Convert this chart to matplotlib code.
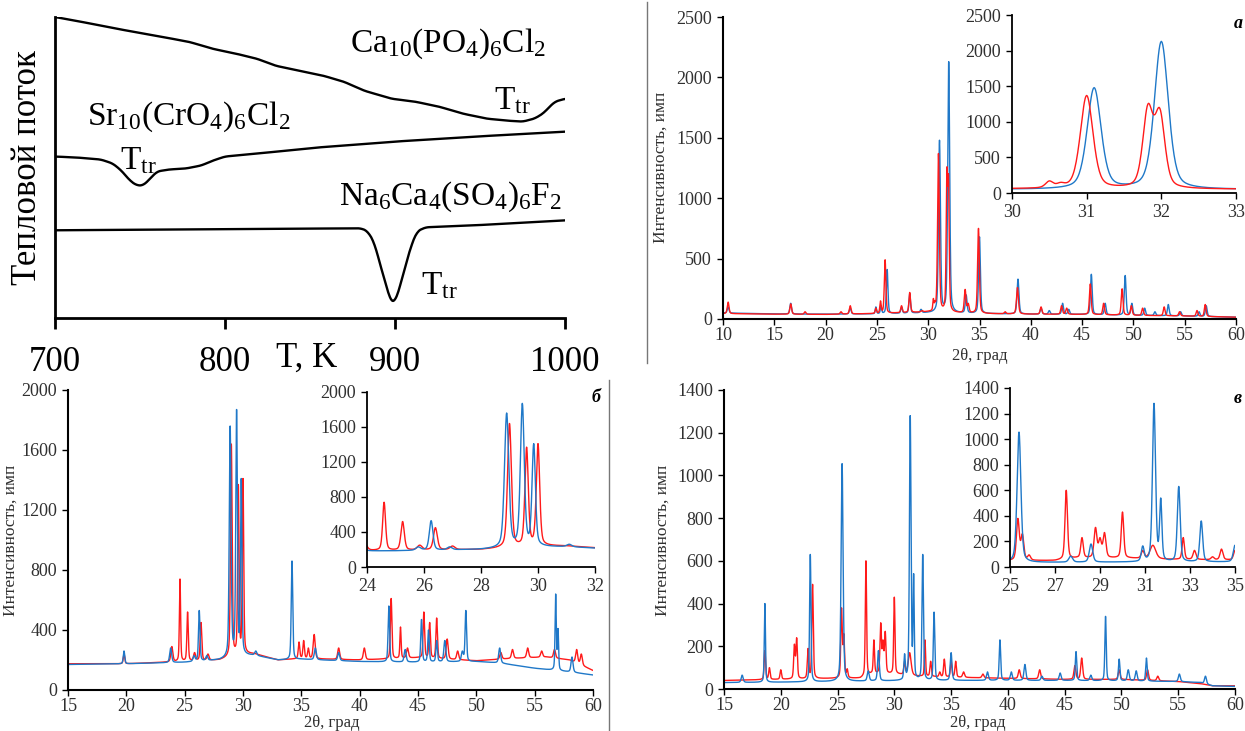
import numpy as np
import matplotlib
matplotlib.use('Agg')
import matplotlib.pyplot as plt
from matplotlib.lines import Line2D

plt.rcParams['font.family'] = ['Liberation Serif', 'DejaVu Serif']
plt.rcParams['mathtext.fontset'] = 'custom'
plt.rcParams['mathtext.rm'] = 'Liberation Serif'
plt.rcParams['mathtext.it'] = 'Liberation Serif:italic'

W, H = 1245, 731
RED = '#ff1a1a'
BLUE = '#1f78c8'
GRAY = '#303030'

# ---------------- DSC curves (T, K / heat flow, arbitrary units) ----------------
ca_T = [700, 713, 737, 760, 779, 793, 807, 819, 830, 844, 858, 870, 882, 898, 912,
        926, 940, 954, 966, 975, 982, 987, 991, 994, 1000]
ca_q = [302, 298, 290, 283, 277, 270, 265, 260, 253, 248, 243, 237, 228, 220, 217,
        212, 205, 200, 198, 197, 200, 205, 212, 217, 220]
sr_T = [700, 713, 727, 734, 739, 744, 748, 752, 756, 760, 767, 777, 786, 793, 800,
        819, 854, 900, 947, 1000]
sr_q = [162, 161, 159, 155, 148, 138, 133, 133, 140, 147, 149, 150, 153, 158, 162,
        165, 171, 177, 182, 187]
na_T = [700, 784, 880, 884, 888, 891, 895, 897, 899, 900.5, 903, 906, 910, 913, 918,
        947, 1000]
na_q = [88, 89, 90, 87, 75, 55, 32, 18, 15, 18, 32, 52, 75, 87, 91, 93, 98]

# ---------------- XRD patterns: background points and peaks (2theta, top, fwhm) ----------------
# panel a
a_blue_bg_x = [10, 15, 20, 25, 30, 35, 40, 45, 50, 55, 60]
a_blue_bg_y = [50, 42, 40, 42, 50, 45, 40, 38, 30, 25, 15]
a_blue_pos = [10.5, 16.6, 22.4, 24.9, 25.4, 26.0, 27.4, 28.2, 29.3, 31.1, 32.0, 33.7, 35.0,
              38.75, 41.0, 41.8, 43.1, 43.7, 45.9, 47.25, 49.2, 49.85, 51.1, 52.1, 53.4,
              54.6, 56.4, 57.1]
a_blue_top = [100, 130, 90, 100, 110, 410, 100, 210, 80, 1480, 2130, 200, 680,
              330, 90, 70, 130, 80, 370, 130, 360, 130, 90, 60, 120,
              60, 60, 110]
a_blue_fw = [0.2, 0.2, 0.2, 0.15, 0.15, 0.18, 0.18, 0.18, 0.2, 0.22, 0.22, 0.2, 0.2,
             0.22, 0.2, 0.2, 0.2, 0.2, 0.2, 0.2, 0.2, 0.2, 0.2, 0.2, 0.2,
             0.2, 0.2, 0.2]
a_red_bg_x = [10, 15, 20, 25, 30, 35, 40, 45, 50, 55, 60]
a_red_bg_y = [45, 40, 38, 45, 58, 45, 40, 38, 30, 25, 15]
a_red_pos = [10.5, 16.6, 18.0, 21.5, 22.4, 24.9, 25.35, 25.8, 27.4, 28.2, 29.4, 30.5,
             30.65, 31.0, 31.82, 31.98, 33.6, 33.9, 34.9, 37.5, 38.7, 41.0, 43.0, 43.5,
             45.8, 47.1, 48.9, 49.8, 50.9, 53.0, 54.5, 56.2, 57.0]
a_red_top = [140, 125, 60, 60, 110, 90, 150, 490, 110, 220, 70, 170,
             150, 1370, 1250, 1190, 245, 130, 750, 60, 260, 100, 110, 90,
             290, 130, 250, 110, 90, 100, 60, 70, 120]
a_red_fw = [0.2, 0.2, 0.2, 0.2, 0.2, 0.15, 0.15, 0.18, 0.18, 0.18, 0.2, 0.12,
            0.12, 0.2, 0.16, 0.16, 0.2, 0.2, 0.2, 0.2, 0.22, 0.2, 0.2, 0.2,
            0.2, 0.2, 0.2, 0.2, 0.2, 0.2, 0.2, 0.2, 0.2]

# panel b
b_blue_bg_x = [15, 20, 25, 28, 30, 31, 33, 35, 40, 45, 50, 52, 55, 58, 60]
b_blue_bg_y = [170, 175, 185, 200, 230, 230, 200, 205, 190, 185, 190, 180, 145, 120, 100]
b_blue_pos = [19.8, 23.8, 25.8, 26.25, 26.9, 28.9, 29.45, 29.85, 31.1, 34.2, 36.2, 38.2,
              42.5, 43.9, 45.3, 45.9, 46.6, 47.3, 48.8, 49.1, 52.0, 56.8, 57.0, 58.2]
b_blue_top = [260, 280, 230, 530, 230, 1760, 1870, 1410, 260, 860, 280, 250,
              560, 270, 470, 400, 330, 330, 260, 530, 280, 640, 410, 220]
b_blue_fw = [0.15, 0.2, 0.2, 0.15, 0.2, 0.18, 0.16, 0.14, 0.2, 0.15, 0.2, 0.2,
             0.15, 0.2, 0.15, 0.15, 0.15, 0.2, 0.2, 0.15, 0.2, 0.12, 0.12, 0.2]
b_red_bg_x = [15, 20, 25, 28, 30, 31, 33, 35, 40, 45, 50, 53, 56, 58, 60]
b_red_bg_y = [175, 175, 190, 200, 240, 240, 200, 210, 200, 215, 195, 210, 220, 200, 130]
b_red_pos = [19.8, 23.9, 24.6, 25.25, 25.85, 26.4, 27.0, 29.0, 29.6, 30.0, 34.8, 35.2,
             35.6, 36.1, 38.2, 40.4, 42.7, 43.5, 44.1, 45.5, 46.0, 46.6, 47.5, 48.4,
             52.1, 53.1, 54.4, 55.6, 56.7, 58.6, 59.0]
b_red_top = [240, 290, 740, 520, 250, 450, 240, 1640, 1370, 1410, 320, 330,
             280, 370, 280, 280, 610, 420, 280, 520, 450, 480, 340, 260,
             250, 270, 280, 260, 270, 270, 240]
b_red_fw = [0.15, 0.2, 0.12, 0.14, 0.2, 0.16, 0.2, 0.16, 0.14, 0.14, 0.15, 0.15,
            0.15, 0.2, 0.2, 0.2, 0.15, 0.12, 0.2, 0.15, 0.15, 0.15, 0.2, 0.2,
            0.2, 0.2, 0.2, 0.2, 0.2, 0.2, 0.2]

# panel c
c_blue_bg_x = [15, 20, 25, 30, 35, 40, 45, 50, 55, 57, 58, 60]
c_blue_bg_y = [30, 32, 35, 38, 40, 40, 40, 38, 35, 30, 15, 12]
c_blue_pos = [16.6, 18.6, 22.6, 25.4, 27.7, 28.6, 30.9, 31.4, 31.7, 32.5, 33.5, 35.0,
              38.2, 39.3, 40.3, 41.5, 43.0, 44.6, 46.0, 47.3, 48.6, 49.8, 50.6, 51.3,
              52.2, 55.1, 57.4]
c_blue_top = [65, 400, 630, 1055, 85, 180, 165, 1280, 540, 630, 360, 170,
              80, 230, 80, 115, 60, 75, 175, 65, 340, 140, 90, 85,
              145, 70, 60]
c_blue_fw = [0.2, 0.12, 0.14, 0.2, 0.2, 0.18, 0.15, 0.16, 0.12, 0.15, 0.15, 0.18,
             0.2, 0.15, 0.2, 0.2, 0.2, 0.2, 0.15, 0.2, 0.14, 0.15, 0.2, 0.2,
             0.15, 0.2, 0.2]
c_red_bg_x = [15, 20, 25, 27, 28, 30, 32, 35, 40, 45, 50, 55, 57, 58, 60]
c_red_bg_y = [40, 45, 50, 50, 70, 70, 60, 55, 50, 45, 45, 35, 25, 15, 15]
c_red_pos = [18.6, 19.0, 20.0, 21.2, 21.4, 22.4, 22.8, 25.35, 25.55, 25.85, 27.5, 28.2,
             28.8, 29.0, 29.2, 30.0, 30.9, 31.35, 32.7, 33.2, 34.0, 34.4, 35.0, 35.4,
             36.1, 37.8, 41.0, 42.8, 45.9, 46.5, 49.8, 52.3, 53.2]
c_red_top = [180, 100, 90, 210, 240, 190, 490, 380, 260, 95, 600, 230,
             310, 230, 270, 430, 130, 170, 230, 130, 80, 140, 130, 130,
             80, 70, 90, 90, 110, 145, 90, 90, 60]
c_red_fw = [0.15, 0.15, 0.15, 0.15, 0.15, 0.15, 0.15, 0.15, 0.15, 0.15, 0.13, 0.13,
            0.15, 0.15, 0.15, 0.13, 0.15, 0.3, 0.12, 0.15, 0.15, 0.15, 0.15, 0.15,
            0.2, 0.2, 0.2, 0.2, 0.2, 0.2, 0.2, 0.2, 0.2]


def shape(d, fw, eta=0.4):
    g = np.exp(-4 * np.log(2) * d ** 2 / fw ** 2)
    l = 1.0 / (1 + 4 * d ** 2 / fw ** 2)
    return (1 - eta) * g + eta * l


def pattern(x, bg_x, bg_y, pos, top, fw):
    pos = np.array(pos, float)
    fw = np.array(fw, float)
    need = np.array(top, float) - np.interp(pos, bg_x, bg_y)
    m = shape(pos[:, None] - pos[None, :], fw[None, :])
    amp = np.clip(np.linalg.lstsq(m, need, rcond=None)[0], 0, None)
    y = np.interp(x, bg_x, bg_y)
    for p, a, w in zip(pos, amp, fw):
        y = y + a * shape(x - p, w)
    return y


def smooth_line(tx, qy, k=9):
    t = np.arange(700, 1000.01, 0.5)
    q = np.interp(t, tx, qy)
    pad = np.concatenate([np.full(k, q[0]), q, np.full(k, q[-1])])
    qs = np.convolve(pad, np.ones(2 * k + 1) / (2 * k + 1), mode='same')[k:-k]
    return t, qs


def px(l, t, r, b):
    return [l / W, 1 - b / H, (r - l) / W, (b - t) / H]


def ftext(x, y, s, **kw):
    fig.text(x / W, 1 - y / H, s, **kw)


def style(ax, size, lw=1.3, pad=3):
    for s in ['top', 'right']:
        ax.spines[s].set_visible(False)
    for s in ['left', 'bottom']:
        ax.spines[s].set_linewidth(lw)
        ax.spines[s].set_color('black')
    ax.tick_params(direction='out', length=4, width=1, labelsize=size,
                   labelcolor=GRAY, pad=pad)


fig = plt.figure(figsize=(W / 100, H / 100), dpi=100)

# ---- DSC panel ----
ax = fig.add_axes(px(55, 17, 565, 318))
for tx, qy in [(ca_T, ca_q), (sr_T, sr_q), (na_T, na_q)]:
    t, q = smooth_line(tx, qy, k=4)
    ax.plot(t, q, color='black', lw=1.7)
ax.set_xlim(700, 1000)
ax.set_ylim(0, 302)
for s in ['top', 'right']:
    ax.spines[s].set_visible(False)
for s in ['left', 'bottom']:
    ax.spines[s].set_linewidth(2)
ax.set_yticks([])
ax.set_xticks([700, 800, 900, 1000])
ax.tick_params(axis='x', direction='out', length=8, width=2, labelsize=25, pad=12)
ax.text(848, -40, 'T, K', fontsize=25, ha='center', va='center', clip_on=False)
ax.text(931, 275, r'Ca$_{10}$(PO$_4$)$_6$Cl$_2$', fontsize=24, ha='center', va='center')
ax.text(958, 218, r'T$_{\mathrm{tr}}$', fontsize=24, ha='left', va='center')
ax.text(719, 202, r'Sr$_{10}$(CrO$_4$)$_6$Cl$_2$', fontsize=24, ha='left', va='center')
ax.text(738, 158, r'T$_{\mathrm{tr}}$', fontsize=24, ha='left', va='center')
ax.text(867, 122, r'Na$_6$Ca$_4$(SO$_4$)$_6$F$_2$', fontsize=24, ha='left', va='center')
ax.text(915, 32, r'T$_{\mathrm{tr}}$', fontsize=24, ha='left', va='center')
ftext(28, 168, 'Тепловой поток', fontsize=25, rotation=90, ha='center', va='center')

# ---- XRD panels ----
panels = [
    dict(main=(723, 17, 1236, 319), ins=(1012, 15, 1236, 193),
         xr=(10, 60, 5), yr=(0, 2500, 500), ixr=(30, 33, 1), iyr=(0, 2500, 500),
         blue=(a_blue_bg_x, a_blue_bg_y, a_blue_pos, a_blue_top, a_blue_fw),
         red=(a_red_bg_x, a_red_bg_y, a_red_pos, a_red_top, a_red_fw),
         red_top=True, tag='а', tagxy=(1238, 24),
         xl=(980, 356), yl=(661, 167)),
    dict(main=(68, 390, 593, 690), ins=(367, 392, 595, 567),
         xr=(15, 60, 5), yr=(0, 2000, 400), ixr=(24, 32, 2), iyr=(0, 2000, 400),
         blue=(b_blue_bg_x, b_blue_bg_y, b_blue_pos, b_blue_top, b_blue_fw),
         red=(b_red_bg_x, b_red_bg_y, b_red_pos, b_red_top, b_red_fw),
         red_top=False, tag='б', tagxy=(596, 397),
         xl=(332, 723), yl=(11, 540)),
    dict(main=(724, 390, 1235, 689), ins=(1010, 388, 1235, 567),
         xr=(15, 60, 5), yr=(0, 1400, 200), ixr=(25, 35, 2), iyr=(0, 1400, 200),
         blue=(c_blue_bg_x, c_blue_bg_y, c_blue_pos, c_blue_top, c_blue_fw),
         red=(c_red_bg_x, c_red_bg_y, c_red_pos, c_red_top, c_red_fw),
         red_top=False, tag='в', tagxy=(1238, 399),
         xl=(978, 723), yl=(663, 540)),
]

for p in panels:
    x = np.arange(p['xr'][0], p['xr'][1] + 0.001, 0.01)
    yb = pattern(x, *p['blue'])
    yr = pattern(x, *p['red'])
    for box, xr, ytk, lw, pd in [(p['main'], p['xr'], p['yr'], 1.5, 2),
                                 (p['ins'], p['ixr'], p['iyr'], 1.3, 4)]:
        a = fig.add_axes(px(*box))
        if p['red_top']:
            a.plot(x, yb, color=BLUE, lw=1.0)
            a.plot(x, yr, color=RED, lw=1.0)
        else:
            a.plot(x, yr, color=RED, lw=1.0)
            a.plot(x, yb, color=BLUE, lw=1.0)
        a.set_xlim(xr[0], xr[1])
        a.set_ylim(ytk[0], ytk[1])
        a.set_xticks(np.arange(xr[0], xr[1] + 0.001, xr[2]))
        a.set_yticks(np.arange(ytk[0], ytk[1] + 1, ytk[2]))
        style(a, 13, lw=lw, pad=4)
        a.tick_params(axis='x', pad=pd)
    ftext(p['xl'][0], p['xl'][1], '2θ, град', fontsize=12, color=GRAY,
          ha='center', va='center')
    ftext(p['yl'][0], p['yl'][1], 'Интенсивность, имп', fontsize=12.5, color=GRAY,
          rotation=90, ha='center', va='center')
    ftext(p['tagxy'][0], p['tagxy'][1], p['tag'], fontsize=13, fontweight='bold',
          fontstyle='italic', ha='center', va='center')

# separator lines
fig.add_artist(Line2D([647 / W, 647 / W], [1 - 2 / H, 1 - 363 / H], color='#777777', lw=1))
fig.add_artist(Line2D([609 / W, 609 / W], [1 - 380 / H, 0], color='#777777', lw=1))

fig.savefig('out.png', dpi=100)
